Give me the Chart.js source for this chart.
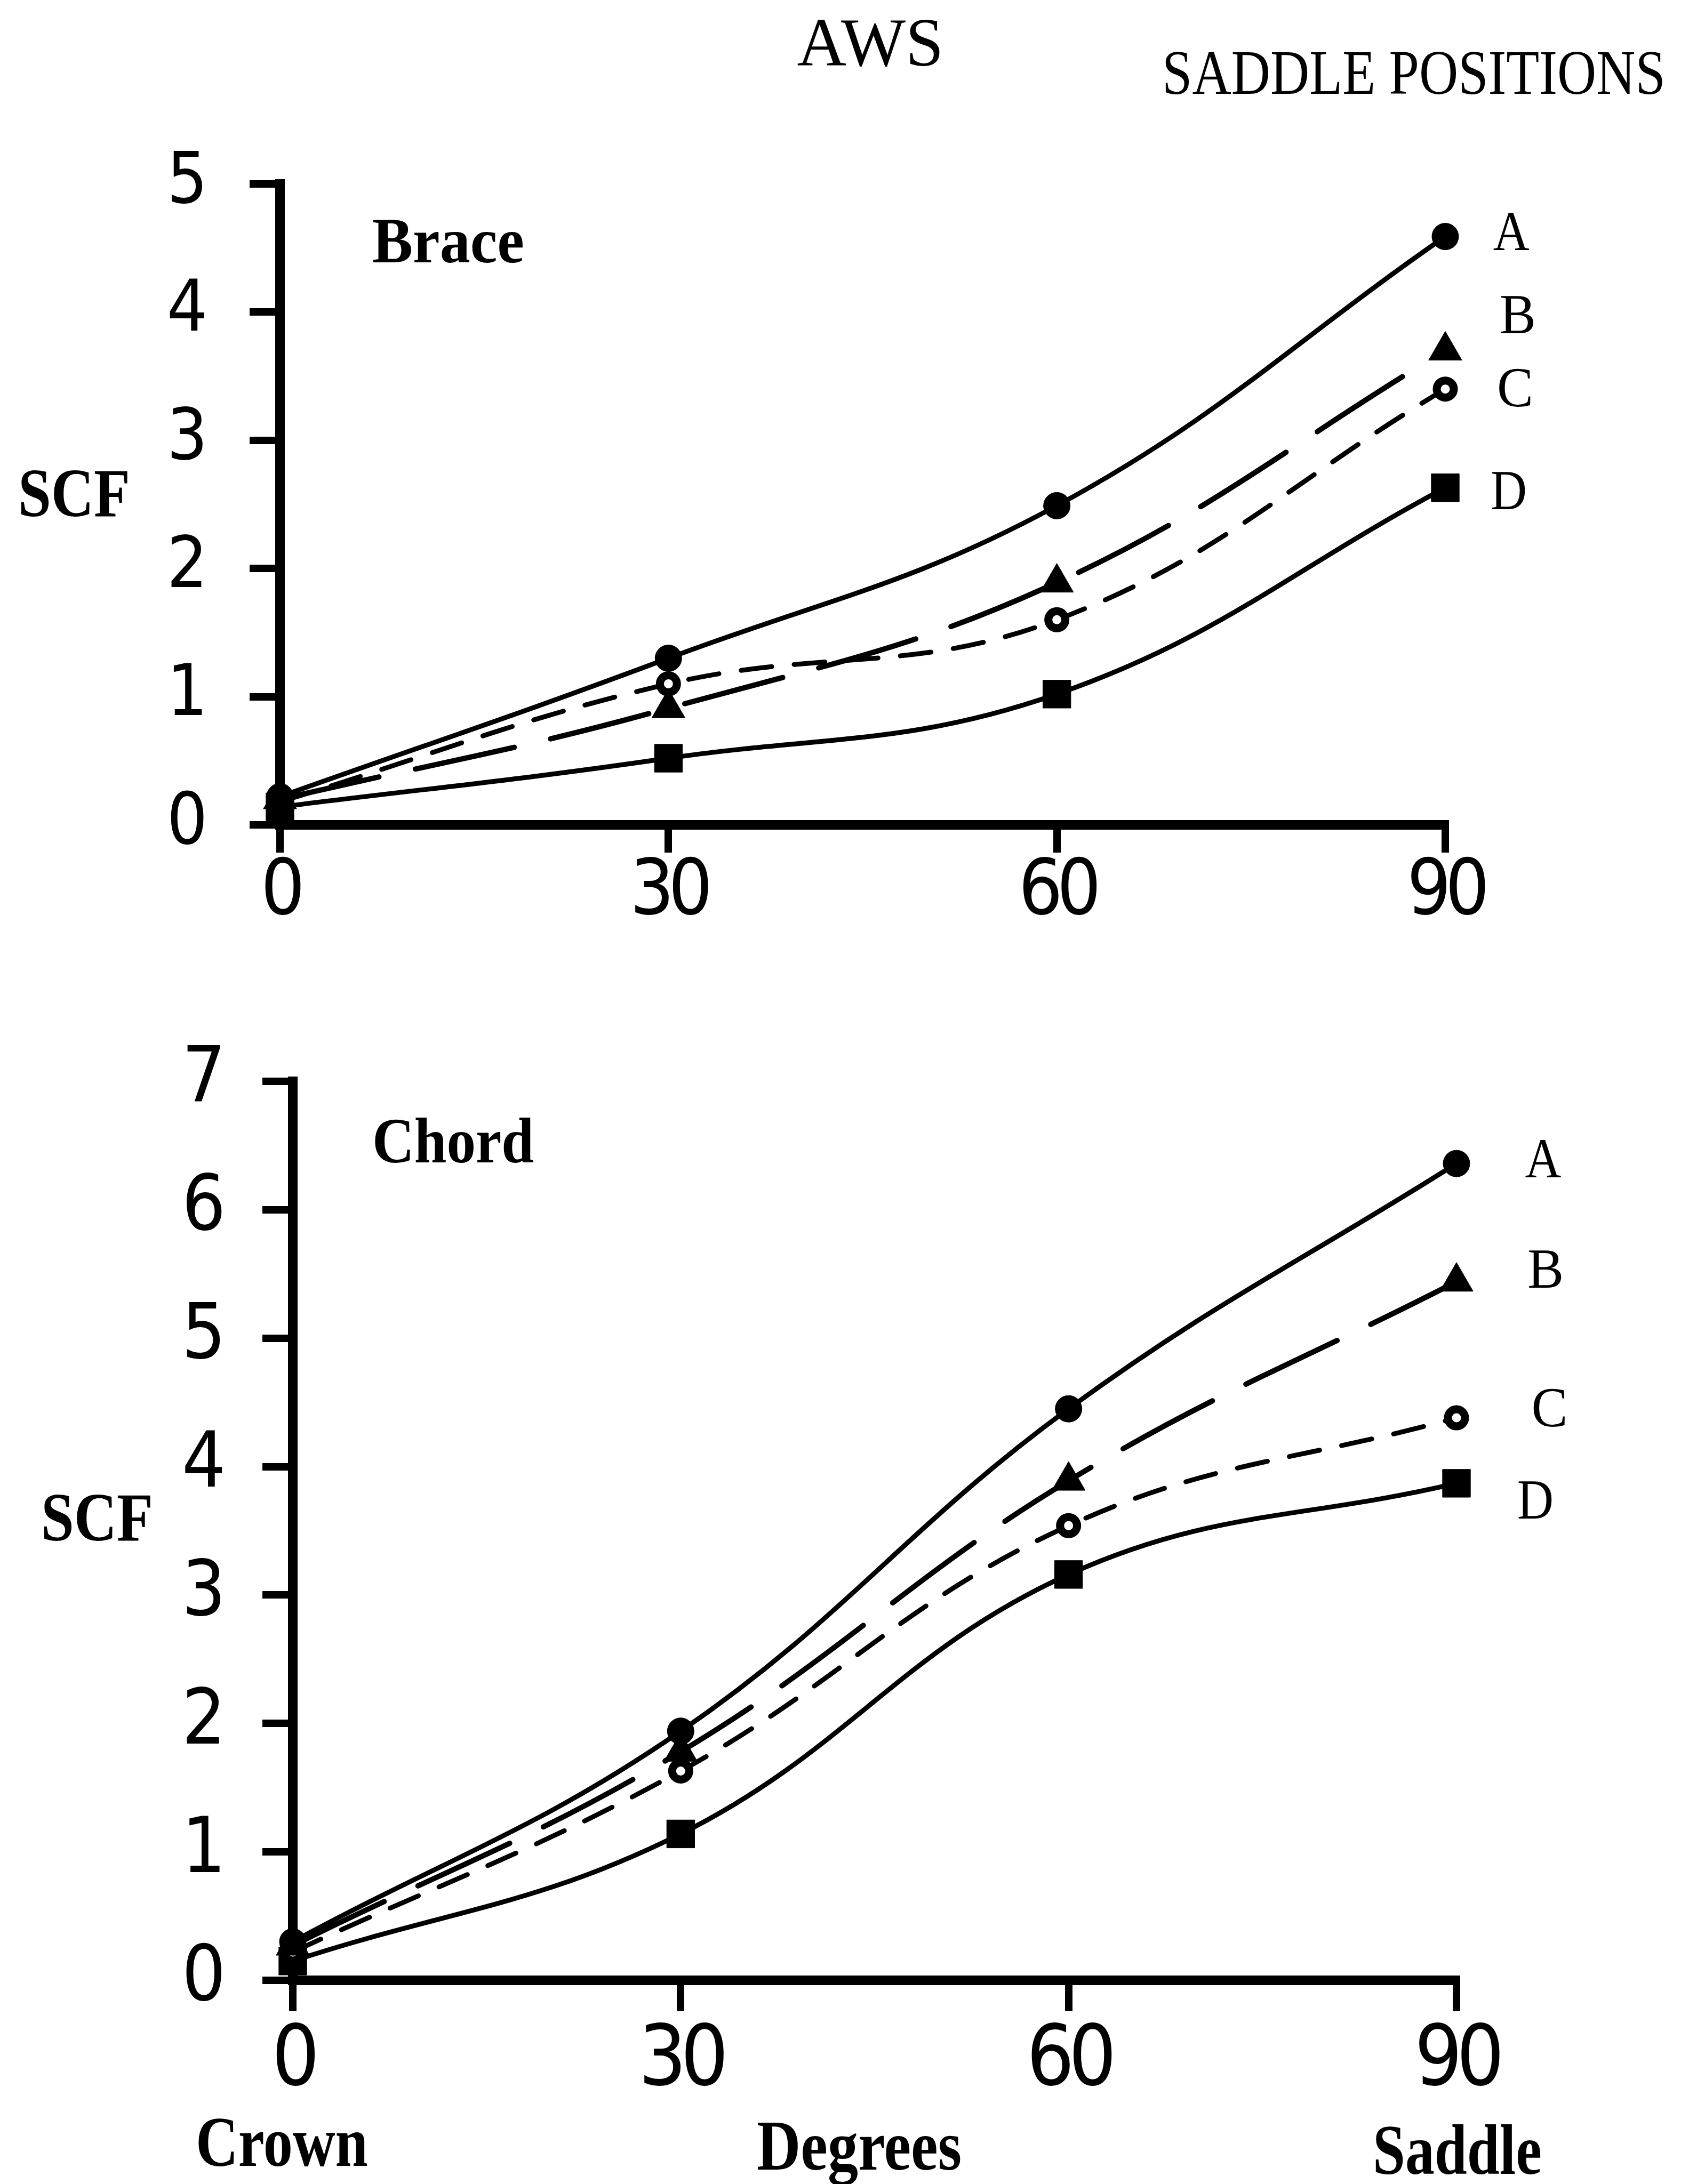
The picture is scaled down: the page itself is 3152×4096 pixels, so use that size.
<!DOCTYPE html>
<html>
<head>
<meta charset="utf-8">
<title>AWS – SCF at saddle positions</title>
<script src="https://cdn.jsdelivr.net/npm/chart.js@4.4.1/dist/chart.umd.min.js"></script>
<style>
  html, body { margin: 0; padding: 0; background: #fff; width: 3152px; height: 4096px; overflow: hidden; }
  .panel { position: absolute; left: 0; }
  #brace { top: 0; }
  #chord { top: 1760px; }
</style>
</head>
<body>
<canvas id="brace" class="panel" width="3152" height="1760"></canvas>
<canvas id="chord" class="panel" width="3152" height="2336"></canvas>
<script>
// ---- data ---------------------------------------------------------------
const degrees = [0, 30, 60, 90];
const degreeTicks = [0, 30, 60, 90];
const positions = ['A', 'B', 'C', 'D'];

// Brace SCF by saddle position
const braceA = [0.22, 1.30, 2.49, 4.59];
const braceB = [0.20, 0.91, 1.89, 3.70];
const braceC = [0.18, 1.10, 1.60, 3.40];
const braceD = [0.14, 0.52, 1.02, 2.63];
const braceTicks = [0, 1, 2, 3, 4, 5];

// Chord SCF by saddle position
const chordA = [0.30, 1.94, 4.45, 6.36];
const chordB = [0.27, 1.78, 3.89, 5.44];
const chordC = [0.22, 1.63, 3.54, 4.38];
const chordD = [0.15, 1.14, 3.16, 3.87];
const chordTicks = [0, 1, 2, 3, 4, 5, 6, 7];

// where the A–D position letters sit, in axis units
const braceLetterX = [95.1, 95.6, 95.4, 94.9];
const braceLetterY = [4.60, 3.95, 3.38, 2.58];
const chordLetterX = [96.7, 96.9, 97.2, 96.1];
const chordLetterY = [6.37, 5.51, 4.43, 3.71];

// ---- styling ------------------------------------------------------------
const INK = '#000';
const SERIF = '"Liberation Serif", "DejaVu Serif", "Times New Roman", serif';
const TICKFONT = '"DejaVu Sans Condensed", "DejaVu Sans", sans-serif';

const seriesStyle = [
  { pointStyle: 'circle',   pointRadius: 25, pointBackgroundColor: INK, pointBorderWidth: 1,  borderWidth: 9,  borderDash: [] },
  { pointStyle: 'triangle', pointRadius: 36, pointBackgroundColor: INK, pointBorderWidth: 1,  borderWidth: 10, borderDash: [190, 70] },
  { pointStyle: 'circle',   pointRadius: 16, pointBackgroundColor: '#fff', pointBorderWidth: 15, borderWidth: 9, borderDash: [58, 42] },
  { pointStyle: 'rect',     pointRadius: 37, pointBackgroundColor: INK, pointBorderWidth: 1,  borderWidth: 9,  borderDash: [] }
];

function makeDatasets(series) {
  return series.map((vals, i) => Object.assign({
    label: positions[i],
    data: degrees.map((d, j) => ({ x: d, y: vals[j] })),
    borderColor: INK,
    backgroundColor: INK,
    pointBorderColor: INK,
    fill: false,
    tension: 0.4,
    borderCapStyle: 'round',
    borderJoinStyle: 'round',
    clip: false
  }, seriesStyle[i]));
}

function drawText(ctx, text, x, y, size, opts) {
  opts = opts || {};
  ctx.save();
  if ('letterSpacing' in ctx) ctx.letterSpacing = '0px';
  ctx.font = (opts.weight || 'normal') + ' ' + size + 'px ' + SERIF;
  ctx.fillStyle = INK;
  ctx.textAlign = opts.align || 'left';
  ctx.textBaseline = opts.baseline || 'alphabetic';
  if (opts.width) ctx.fillText(text, x, y, opts.width);
  else ctx.fillText(text, x, y);
  ctx.restore();
}

// tighter digit spacing for the axis numbers
const tightTicks = {
  id: 'tightTicks',
  beforeDraw(chart) { if ('letterSpacing' in chart.ctx) chart.ctx.letterSpacing = '-11px'; },
  beforeDatasetsDraw(chart) { if ('letterSpacing' in chart.ctx) chart.ctx.letterSpacing = '0px'; }
};

// position letters A–D placed through the chart scales
function letterPlugin(lx, ly) {
  return {
    id: 'positionLetters',
    afterDatasetsDraw(chart) {
      const xs = chart.scales.x, ys = chart.scales.y;
      positions.forEach((p, i) => {
        drawText(chart.ctx, p, xs.getPixelForValue(lx[i]), ys.getPixelForValue(ly[i]), 106,
                 { align: 'center', baseline: 'middle', width: 68 });
      });
    }
  };
}

function panelText(items) {
  return {
    id: 'panelText',
    afterDraw(chart) {
      items.forEach(t => drawText(chart.ctx, t.text, t.x, t.y, t.size, t));
    }
  };
}

function axes(yTicks, yMax, cfg) {
  return {
    x: {
      type: 'linear', min: 0, max: 90,
      afterBuildTicks: s => { s.ticks = degreeTicks.map(v => ({ value: v })); },
      afterFit: s => { s.height = cfg.xHeight; },
      grid: { drawOnChartArea: false, drawTicks: true, tickLength: cfg.xTickLen, tickWidth: 14, tickColor: INK, color: INK, lineWidth: 14 },
      border: { display: true, color: INK, width: 18 },
      ticks: { color: INK, padding: cfg.xPad, maxRotation: 0, font: { family: TICKFONT, size: cfg.xFont } }
    },
    y: {
      type: 'linear', min: 0, max: yMax,
      afterBuildTicks: s => { s.ticks = yTicks.map(v => ({ value: v })); },
      afterFit: s => { s.width = 300; },
      grid: { drawOnChartArea: false, drawTicks: true, tickLength: 57, tickWidth: 14, tickColor: INK, color: INK, lineWidth: 14 },
      border: { display: true, color: INK, width: 18 },
      ticks: { color: INK, padding: cfg.yPad, crossAlign: 'center', font: { family: TICKFONT, size: cfg.yFont } }
    }
  };
}

const common = {
  responsive: false,
  animation: false,
  events: [],
  plugins: { legend: { display: false }, tooltip: { enabled: false }, title: { display: false } }
};

// ---- Brace panel --------------------------------------------------------
new Chart(document.getElementById('brace'), {
  type: 'line',
  data: { datasets: makeDatasets([braceA, braceB, braceC, braceD]) },
  options: Object.assign({}, common, {
    layout: { padding: { left: 225, top: 345, right: 442, bottom: 13 } },
    scales: axes(braceTicks, 5, { xHeight: 200, xTickLen: 52, xPad: -10, xFont: 145, yPad: 84, yFont: 134 })
  }),
  plugins: [
    tightTicks,
    letterPlugin(braceLetterX, braceLetterY),
    panelText([
      { text: 'AWS', x: 1632, y: 123, size: 130, align: 'center', width: 275 },
      { text: 'SADDLE POSITIONS', x: 2179, y: 176, size: 118, width: 944 },
      { text: 'Brace', x: 698, y: 492, size: 120, weight: 'bold', width: 285 },
      { text: 'SCF', x: 34, y: 968, size: 130, weight: 'bold', width: 210 }
    ])
  ]
});

// ---- Chord panel --------------------------------------------------------
new Chart(document.getElementById('chord'), {
  type: 'line',
  data: { datasets: makeDatasets([chordA, chordB, chordC, chordD]) },
  options: Object.assign({}, common, {
    layout: { padding: { left: 249, top: 268, right: 421, bottom: 182 } },
    scales: axes(chordTicks, 7, { xHeight: 200, xTickLen: 58, xPad: 3, xFont: 157, yPad: 74, yFont: 144 })
  }),
  plugins: [
    tightTicks,
    letterPlugin(chordLetterX, chordLetterY),
    panelText([
      { text: 'Chord', x: 698, y: 420, size: 120, weight: 'bold', width: 303 },
      { text: 'SCF', x: 77, y: 1129, size: 130, weight: 'bold', width: 210 },
      { text: 'Crown', x: 367, y: 2302, size: 134, weight: 'bold', width: 323 },
      { text: 'Degrees', x: 1419, y: 2309, size: 134, weight: 'bold', width: 384 },
      { text: 'Saddle', x: 2574, y: 2317, size: 134, weight: 'bold', width: 317 }
    ])
  ]
});
</script>
</body>
</html>
